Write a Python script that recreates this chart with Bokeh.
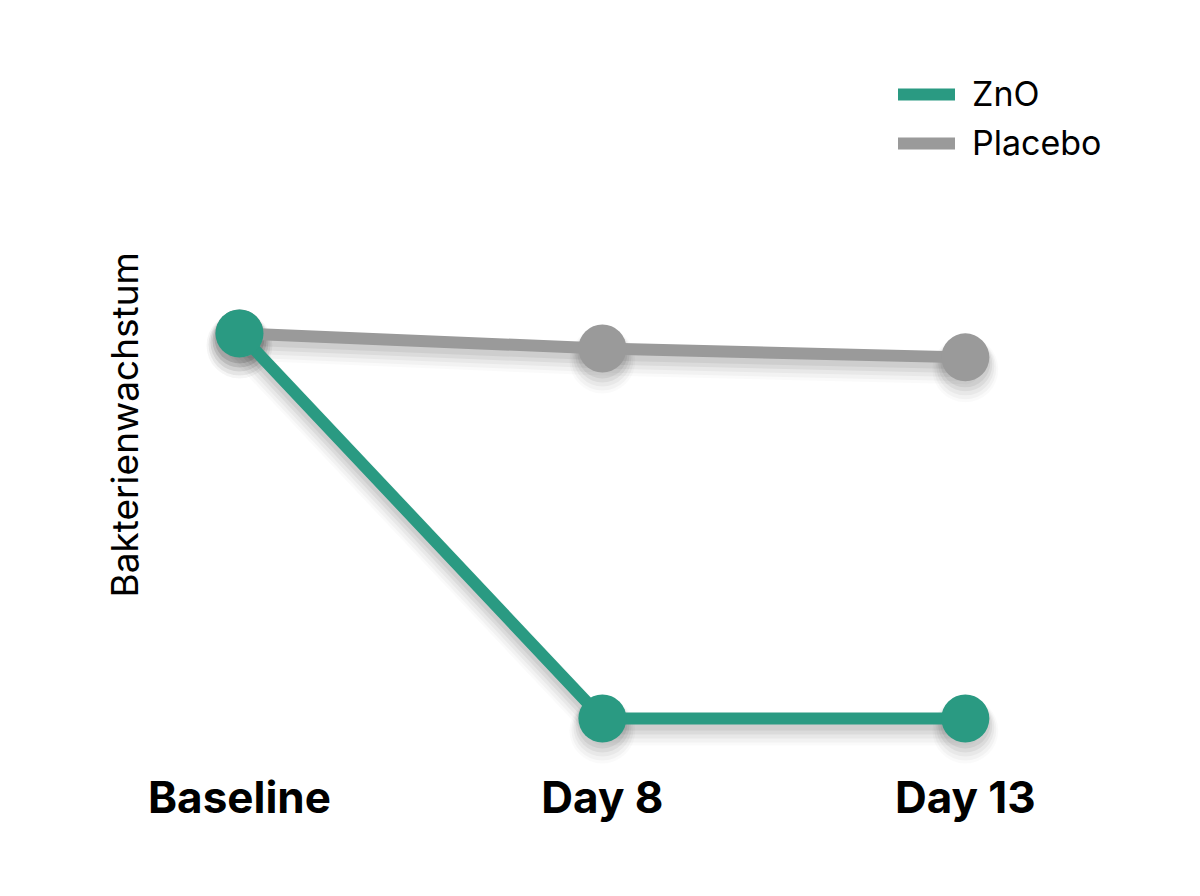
from bokeh.plotting import figure
from bokeh.models import Range1d, FixedTicker, Legend, LegendItem, Title
from bokeh.embed import file_html
from bokeh.resources import INLINE

# ---- data ----
time_points = ["Baseline", "Day 8", "Day 13"]
x_pos = [0, 1, 2]
zno = [100.0, 0.0, 0.0]
placebo = [100.0, 96.1, 93.8]
y_label = "Bakterienwachstum"
series_names = ["ZnO", "Placebo"]

GREEN = "#2a9a82"
GRAY = "#9a9a9a"
FONT = "Inter"

W, H = 1184, 880
B_LEFT, B_RIGHT, B_TOP, B_BOTTOM = 160, 74, 40, 115
x0, x1 = -0.2176, 2.4
y0, y1 = -12.2, 176.1
frame_h = H - B_TOP - B_BOTTOM

p = figure(width=W, height=H, output_backend="svg", toolbar_location=None,
           x_range=Range1d(x0, x1), y_range=Range1d(y0, y1),
           min_border_left=B_LEFT, min_border_right=B_RIGHT,
           min_border_top=B_TOP, min_border_bottom=B_BOTTOM)
p.background_fill_color = "white"
p.border_fill_color = "white"
p.outline_line_color = None
p.xgrid.visible = False
p.ygrid.visible = False
p.yaxis.visible = False

# x axis
p.xaxis.ticker = FixedTicker(ticks=x_pos)
p.xaxis.major_label_overrides = {x: t for x, t in zip(x_pos, time_points)}
p.xaxis.major_label_text_font = FONT
p.xaxis.major_label_text_font_style = "bold"
p.xaxis.major_label_text_font_size = "44px"
p.xaxis.major_label_text_color = "#000000"
p.xaxis.major_label_standoff = -2
p.xaxis.axis_line_color = None
p.xaxis.major_tick_line_color = None
p.xaxis.minor_tick_line_color = None

# y title on the left side
p.add_layout(Title(text=y_label, align="left", offset=168, standoff=27,
                   text_font=FONT, text_font_size="37px",
                   text_font_style="normal", text_color="#000000"), "left")

# soft drop shadows (offset in pixels converted to data units)
ypx = (y1 - y0) / frame_h
for vals in (placebo, zno):
    for off, extra, a in [(5, 2, 0.06), (7, 6, 0.05), (9, 10, 0.04), (11, 14, 0.03), (12, 18, 0.02)]:
        sy = [v - off * ypx for v in vals]
        p.line(x_pos, sy, line_width=12 + extra, line_color="black",
               line_alpha=a, line_cap="round", line_join="round")
        p.scatter(x_pos, sy, size=48 + extra, fill_color="black",
                  fill_alpha=a, line_color=None)

gl = p.line(x_pos, placebo, line_width=12, line_color=GRAY,
            line_cap="round", line_join="round")
p.scatter(x_pos, placebo, size=48, fill_color=GRAY, line_color=None)
zl = p.line(x_pos, zno, line_width=12, line_color=GREEN,
            line_cap="round", line_join="round")
p.scatter(x_pos, zno, size=48, fill_color=GREEN, line_color=None)

legend = Legend(items=[LegendItem(label=series_names[0], renderers=[zl]),
                       LegendItem(label=series_names[1], renderers=[gl])],
                location=(738, 602))
legend.glyph_width = 57
legend.glyph_height = 40
legend.label_height = 40
legend.spacing = 8
legend.padding = 0
legend.margin = 0
legend.label_standoff = 17
legend.label_text_font = FONT
legend.label_text_font_size = "34px"
legend.label_text_color = "#000000"
legend.border_line_color = None
legend.background_fill_alpha = 0
legend.inactive_fill_alpha = 0
p.add_layout(legend, "center")

open("out.html", "w").write(file_html(p, INLINE))
